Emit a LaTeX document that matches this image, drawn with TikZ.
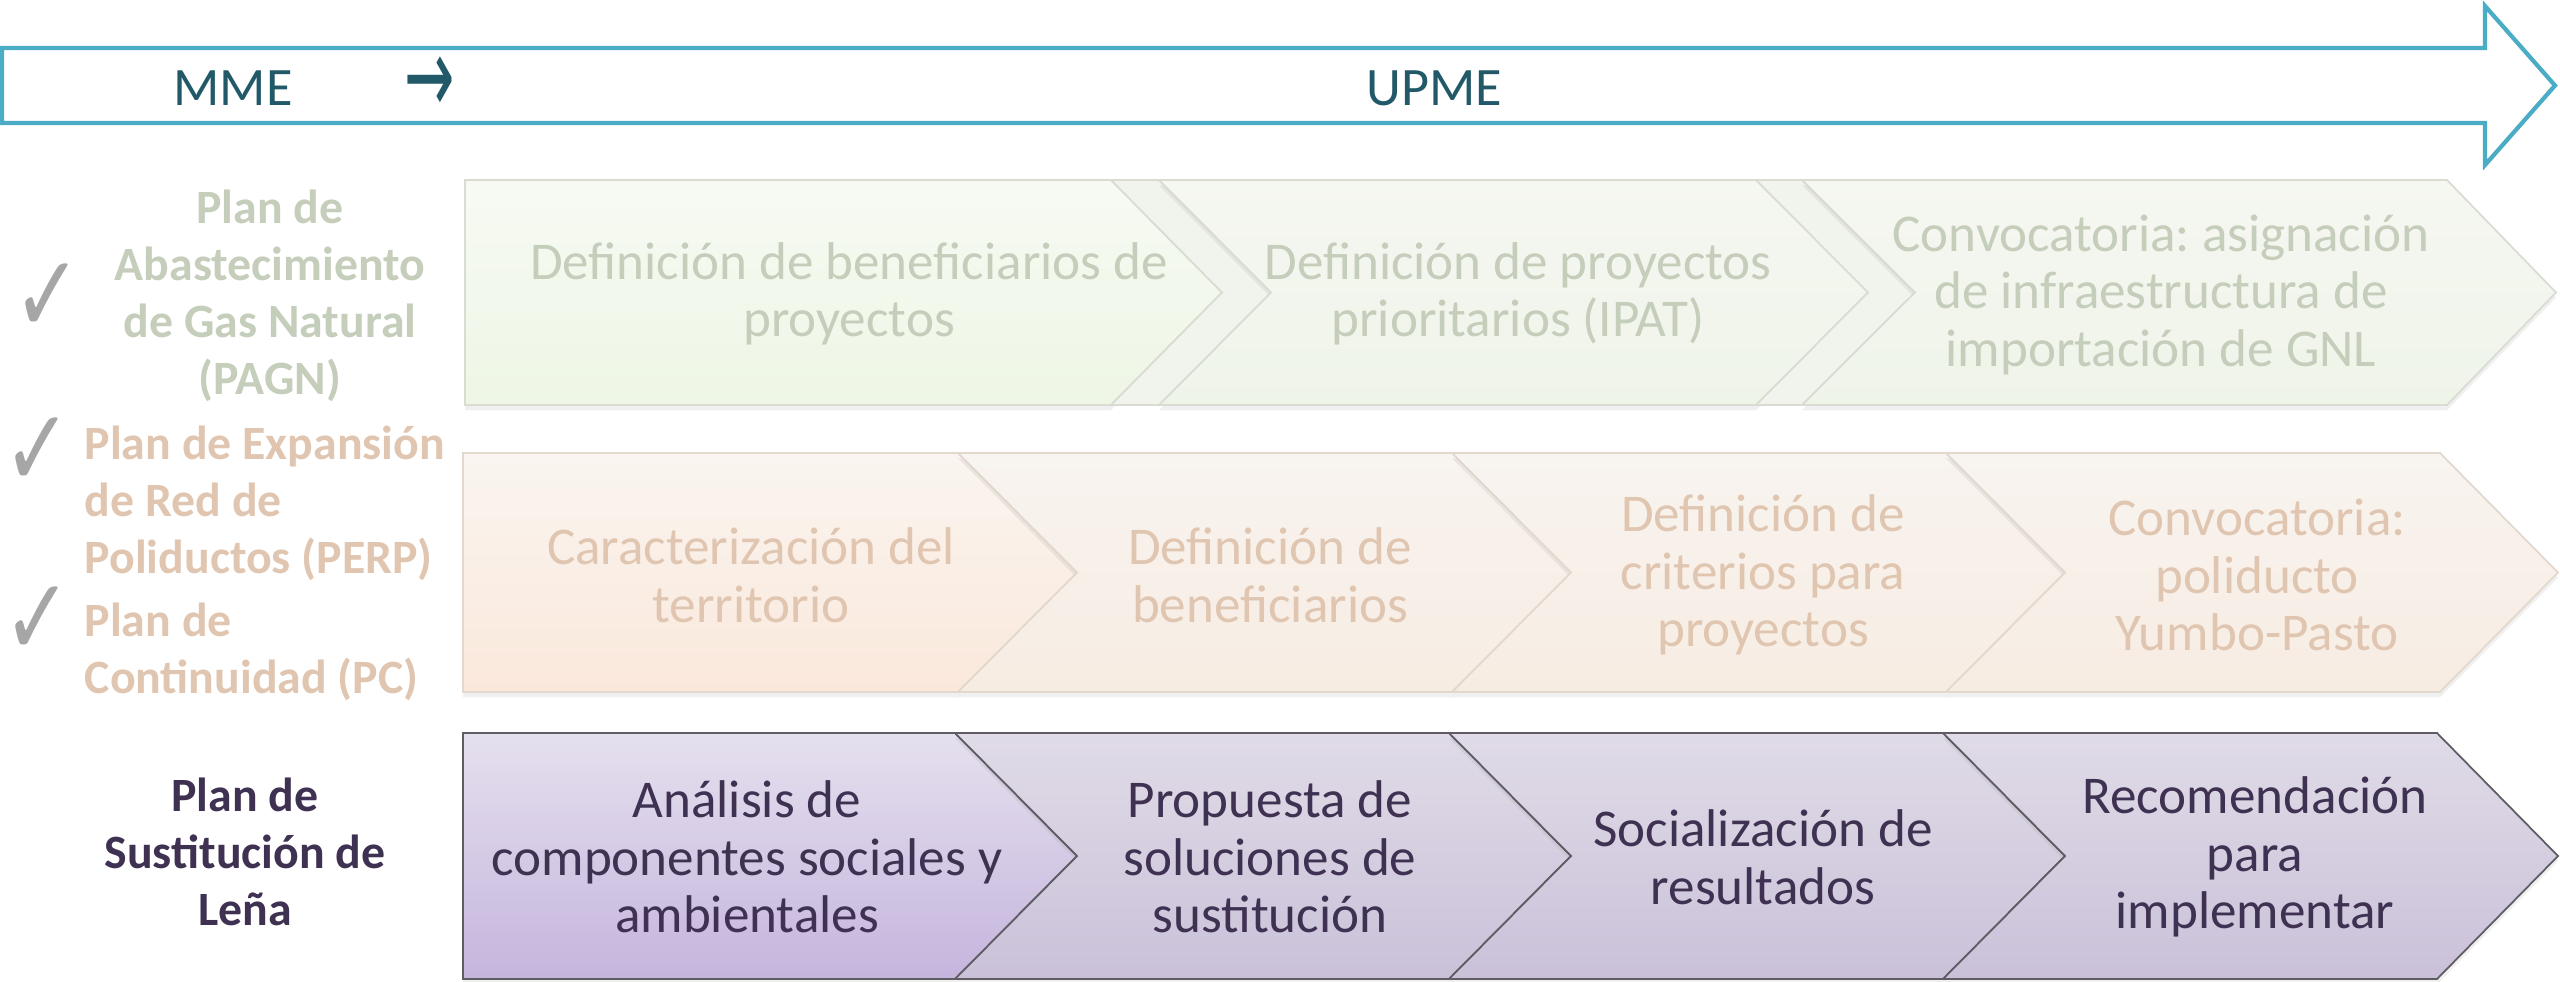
\documentclass[tikz,border=0pt]{standalone}
\usepackage{fontspec}
\setmainfont{Carlito}
\newfontfamily\checkfont{DejaVu Sans}
\usetikzlibrary{shadows}
\frenchspacing

\definecolor{arrowblue}{RGB}{75,172,198}
\definecolor{titleteal}{RGB}{33,89,104}
\definecolor{greentxt}{RGB}{197,205,187}
\definecolor{orangetxt}{RGB}{224,198,176}
\definecolor{purpletxt}{RGB}{63,49,81}
\definecolor{checkgrey}{RGB}{166,166,166}
\definecolor{greenline}{RGB}{218,220,212}
\definecolor{greenband}{RGB}{241,244,236}
\definecolor{orangeline}{RGB}{226,216,206}
\definecolor{purpleline}{RGB}{95,92,100}

\tikzset{
  chev/.style={line width=0.5pt,
    drop shadow={shadow xshift=0pt,shadow yshift=-1.5pt,opacity=0.12}},
  greenfirst/.style={chev,draw=greenline,top color={rgb,255:red,247;green,250;blue,243},bottom color={rgb,255:red,238;green,246;blue,229}},
  greenchev/.style={chev,draw=greenline,top color={rgb,255:red,245;green,247;blue,241},bottom color={rgb,255:red,239;green,244;blue,233}},
  greengap/.style={draw=greenline,line width=0.5pt,fill=greenband},
  orangefirst/.style={chev,draw=orangeline,top color={rgb,255:red,250;green,245;blue,240},bottom color={rgb,255:red,250;green,232;blue,219}},
  orangechev/.style={chev,draw=orangeline,top color={rgb,255:red,248;green,244;blue,240},bottom color={rgb,255:red,247;green,236;blue,226}},
  purplefirst/.style={chev,draw=purpleline,top color={rgb,255:red,229;green,224;blue,238},bottom color={rgb,255:red,197;green,181;blue,221}},
  purplechev/.style={chev,draw=purpleline,top color={rgb,255:red,224;green,219;blue,231},bottom color={rgb,255:red,202;green,193;blue,217}},
  boxtext/.style={align=center,inner sep=0pt,font=\fontsize{15.1}{16.4}\selectfont},
  sidetext/.style={inner sep=0pt,font=\fontsize{13.6}{16.2}\selectfont\bfseries},
  titletext/.style={inner sep=0pt,text=titleteal,font=\fontsize{15.4}{18}\selectfont},
  checkmark/.style={inner sep=0pt,text=checkgrey,font=\fontsize{31}{31}\checkfont}
}

\begin{document}
\begin{tikzpicture}[x=0.01cm,y=-0.01cm]
  \useasboundingbox (0,0) rectangle (2560,982);

  % arrow MME -> UPME
  \draw[arrowblue,line width=1.2pt,fill=white]
    (2,48) -- (2485,48) -- (2485,6) -- (2555,85.5) -- (2485,165) -- (2485,123) -- (2,123) -- cycle;
  \node[titletext] (mme) at (233,88) {MME};
  \node[titletext] (to) at (430,85) {\fontsize{18}{18}\checkfont\scalebox{0.95}[1.7]{→}};
  \node[titletext] (upme) at (1434,88) {UPME};

  % row 1: PAGN
  \filldraw[greenfirst] (465,180) -- (1111,180) -- (1222,292.5) -- (1111,405) -- (465,405) -- cycle;
  \filldraw[greengap] (1111,180) -- (1159,180) -- (1271,292.5) -- (1159,405) -- (1111,405) -- (1222,292.5) -- cycle;
  \filldraw[greenchev] (1159,180) -- (1756,180) -- (1868,292.5) -- (1756,405) -- (1159,405) -- (1271,292.5) -- cycle;
  \filldraw[greengap] (1756,180) -- (1802,180) -- (1915,292.5) -- (1802,405) -- (1756,405) -- (1868,292.5) -- cycle;
  \filldraw[greenchev] (1802,180) -- (2447,180) -- (2556,292.5) -- (2447,405) -- (1802,405) -- (1915,292.5) -- cycle;
  \node[boxtext,text=greentxt] (g1) at (849,294) {Definición de beneficiarios de\\proyectos};
  \node[boxtext,text=greentxt] (g2) at (1518,294) {Definición de proyectos\\prioritarios (IPAT)};
  \node[boxtext,text=greentxt] (g3) at (2161,295) {Convocatoria: asignación\\de infraestructura de\\importación de GNL};

  % row 2: PERP y PC
  \filldraw[orangefirst] (463,453) -- (958,453) -- (1077,572.5) -- (958,692) -- (463,692) -- cycle;
  \filldraw[orangechev] (958,453) -- (1452,453) -- (1571,572.5) -- (1452,692) -- (958,692) -- (1077,572.5) -- cycle;
  \filldraw[orangechev] (1452,453) -- (1946,453) -- (2065,572.5) -- (1946,692) -- (1452,692) -- (1571,572.5) -- cycle;
  \filldraw[orangechev] (1946,453) -- (2440,453) -- (2558,572.5) -- (2440,692) -- (1946,692) -- (2065,572.5) -- cycle;
  \node[boxtext,text=orangetxt] (o1) at (751,575) {Caracterización del\\territorio};
  \node[boxtext,text=orangetxt] (o2) at (1270,575) {Definición de\\beneficiarios};
  \node[boxtext,text=orangetxt] (o3) at (1763,575) {Definición de\\criterios para\\proyectos};
  \node[boxtext,text=orangetxt] (o4) at (2257,575) {Convocatoria:\\poliducto\\Yumbo-Pasto};

  % row 3: sustitucion de lena
  \filldraw[purplefirst] (463,733) -- (955,733) -- (1077,856) -- (955,979) -- (463,979) -- cycle;
  \filldraw[purplechev] (955,733) -- (1449,733) -- (1571,856) -- (1449,979) -- (955,979) -- (1077,856) -- cycle;
  \filldraw[purplechev] (1449,733) -- (1943,733) -- (2065,856) -- (1943,979) -- (1449,979) -- (1571,856) -- cycle;
  \filldraw[purplechev] (1943,733) -- (2437,733) -- (2558,856) -- (2437,979) -- (1943,979) -- (2065,856) -- cycle;
  \node[boxtext,text=purpletxt] (p1) at (747,857) {Análisis de\\componentes sociales y\\ambientales};
  \node[boxtext,text=purpletxt] (p2) at (1270,857) {Propuesta de\\soluciones de\\sustitución};
  \node[boxtext,text=purpletxt] (p3) at (1763,857) {Socialización de\\resultados};
  \node[boxtext,text=purpletxt] (p4) at (2255,857) {Recomendación\\para\\implementar};

  % plan labels
  \node[sidetext,text=greentxt,align=center] (pagn) at (270,296) {Plan de\\Abastecimiento\\de Gas Natural\\(PAGN)};
  \node[sidetext,text=orangetxt,align=left,anchor=west] (perp) at (84,503) {Plan de Expansión\\de Red de\\Poliductos (PERP)};
  \node[sidetext,text=orangetxt,align=left,anchor=west] (pc) at (84,652) {Plan de\\Continuidad (PC)};
  \node[sidetext,text=purpletxt,align=center] (lena) at (245,852) {Plan de\\Sustitución de\\Leña};
  \node[checkmark] (chk1) at (48,298) {\scalebox{0.75}[1]{✓}};
  \node[checkmark] (chk2) at (38,452) {\scalebox{0.75}[1]{✓}};
  \node[checkmark] (chk3) at (38,621) {\scalebox{0.75}[1]{✓}};
\end{tikzpicture}
\end{document}
